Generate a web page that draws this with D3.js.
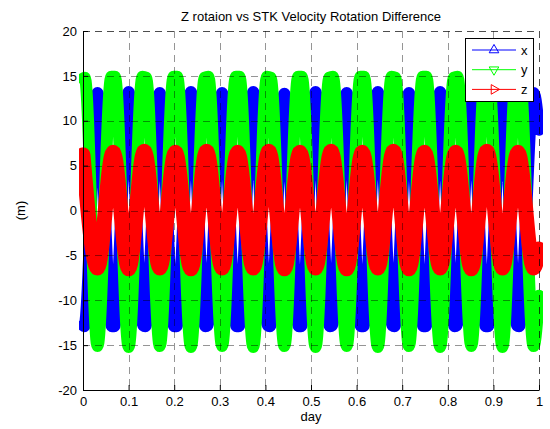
<!DOCTYPE html>
<html>
<head>
<meta charset="utf-8">
<script src="https://cdnjs.cloudflare.com/ajax/libs/d3/7.8.5/d3.min.js"></script>
<style>
  body { margin: 0; background: #fff; }
  .chart { width: 550px; height: 429px; }
  text { font-family: "Liberation Sans", Arial, Helvetica, sans-serif; }
</style>
</head>
<body>
<div class="chart"></div>
<script>
// key points (day, metres)
var xDays = [0, 0.0030, 0.0318,
  0.0635, 0.0685, 0.1001,  0.1318, 0.1368, 0.1684,  0.2001, 0.2051, 0.2367,
  0.2684, 0.2734, 0.3050,  0.3367, 0.3417, 0.3733,  0.4050, 0.4100, 0.4417,
  0.4733, 0.4783, 0.5100,  0.5416, 0.5466, 0.5783,  0.6099, 0.6149, 0.6466,
  0.6782, 0.6832, 0.7149,  0.7465, 0.7515, 0.7832,  0.8148, 0.8198, 0.8515,
  0.8831, 0.8881, 0.9198,  0.9514, 0.9564, 0.9881,  1.0];
var xVals = [-12.8, -12.9, 13.1,
  -12.9, -12.9, 13.2,  -12.8, -12.9, 13.1,  -12.9, -12.9, 13.2,
  -12.9, -12.8, 13.1,  -12.9, -12.9, 13.2,  -12.8, -12.9, 13.0,
  -12.9, -12.9, 13.2,  -12.9, -12.8, 13.1,  -12.9, -12.9, 13.2,
  -12.8, -12.9, 13.1,  -12.9, -12.9, 13.2,  -12.9, -12.8, 13.1,
  -12.9, -12.9, 13.0,  -12.8, -12.9, 13.1,  9.0];

var yDays = [0, 0.0040, 0.0318,
  0.0620, 0.0700, 0.1001,  0.1303, 0.1383, 0.1684,  0.1986, 0.2066, 0.2367,
  0.2669, 0.2749, 0.3050,  0.3352, 0.3432, 0.3733,  0.4035, 0.4115, 0.4417,
  0.4718, 0.4798, 0.5100,  0.5401, 0.5481, 0.5783,  0.6084, 0.6164, 0.6466,
  0.6767, 0.6847, 0.7149,  0.7450, 0.7530, 0.7832,  0.8133, 0.8213, 0.8515,
  0.8816, 0.8896, 0.9198,  0.9499, 0.9579, 0.9881,  1.0];
var yVals = [14.7, 14.8, -15.1,
  14.9, 14.9, -15.2,  14.9, 14.8, -15.1,  14.9, 14.9, -15.2,
  14.8, 14.9, -15.1,  14.9, 14.9, -15.2,  14.9, 14.8, -15.1,
  14.9, 14.9, -15.2,  14.8, 14.9, -15.1,  14.9, 14.9, -15.2,
  14.9, 14.8, -15.1,  14.9, 14.9, -15.2,  14.8, 14.9, -15.1,
  14.9, 14.9, -15.2,  14.9, 14.8, -15.1,  -9.5];

var zDays = [0, 0.0318, 0.0660, 0.1001, 0.1343, 0.1684, 0.2026, 0.2367, 0.2709,
  0.3050, 0.3392, 0.3733, 0.4075, 0.4417, 0.4758, 0.5100, 0.5441, 0.5783,
  0.6124, 0.6466, 0.6807, 0.7149, 0.7490, 0.7832, 0.8173, 0.8515, 0.8856,
  0.9198, 0.9539, 0.9881, 1.0];
var zVals = [6.2, -6.4, 6.5, -6.5, 6.6, -6.4, 6.5, -6.5, 6.6,
  -6.4, 6.5, -6.4, 6.6, -6.5, 6.5, -6.4, 6.6, -6.5,
  6.5, -6.4, 6.6, -6.5, 6.5, -6.4, 6.5, -6.5, 6.6,
  -6.4, 6.5, -6.4, -4.3];

var xTicks = [0, 0.1, 0.2, 0.3, 0.4, 0.5, 0.6, 0.7, 0.8, 0.9, 1];
var xTickLabels = ["0", "0.1", "0.2", "0.3", "0.4", "0.5", "0.6", "0.7", "0.8", "0.9", "1"];
var yTicks = [-20, -15, -10, -5, 0, 5, 10, 15, 20];
var yTickLabels = ["-20", "-15", "-10", "-5", "0", "5", "10", "15", "20"];

var seriesNames = ["x", "y", "z"];
var seriesColors = ["#0000ff", "#00ff00", "#ff0000"];

function drawChart() {
  var eleChart = d3.select(".chart").html(""),
      margin = {top: 31, right: 11, bottom: 39, left: 83},
      width = 550 - margin.left - margin.right,
      height = 429 - margin.top - margin.bottom;

  var svg = eleChart.append("svg").attr("width", 550).attr("height", 429);

  var x = d3.scaleLinear().domain([0, 1]).range([0, width]),
      y = d3.scaleLinear().domain([-20, 20]).range([height, 0]);

  var g = svg.append("g")
      .attr("transform", "translate(" + margin.left + "," + margin.top + ")");

  svg.append("defs").append("clipPath").attr("id", "plotclip")
    .append("rect")
      .attr("x", -4).attr("y", -2)
      .attr("width", width + 8).attr("height", height + 4);

  var line = d3.line()
      .x(function(d) { return x(d[0]); })
      .y(function(d) { return y(d[1]); })
      .curve(d3.curveMonotoneX);

  // thick strokes stand in for the dense marker clouds
  var series = [
    {data: d3.zip(xDays, xVals), width: 12},
    {data: d3.zip(yDays, yVals), width: 12},
    {data: d3.zip(zDays, zVals), width: 15}
  ];

  var plot = g.append("g").attr("clip-path", "url(#plotclip)");
  plot.selectAll(".series")
    .data(series)
    .enter().append("path")
      .attr("class", "series")
      .attr("fill", "none")
      .attr("stroke", function(d, i) { return seriesColors[i]; })
      .attr("stroke-width", function(d) { return d.width; })
      .attr("stroke-linejoin", "round")
      .attr("stroke-linecap", "round")
      .attr("d", function(d) { return line(d.data); });

  // dashed grid on top like matlab
  var grid = g.append("g").attr("class", "grid")
      .attr("stroke", "#000")
      .attr("stroke-width", 0.7)
      .attr("stroke-dasharray", "7,5");
  grid.selectAll(".gx")
    .data(xTicks.slice(1))
    .enter().append("line")
      .attr("x1", function(d) { return Math.round(x(d)) + 0.5; })
      .attr("x2", function(d) { return Math.round(x(d)) + 0.5; })
      .attr("y1", 0).attr("y2", height)
      .attr("stroke-opacity", function(d) { return d === 1 ? 1 : 0.6; });
  grid.selectAll(".gy")
    .data(yTicks.slice(1))
    .enter().append("line")
      .attr("y1", function(d) { return Math.round(y(d)) + 0.5; })
      .attr("y2", function(d) { return Math.round(y(d)) + 0.5; })
      .attr("x1", 0).attr("x2", width)
      .attr("stroke-opacity", function(d) { return d === 20 ? 1 : 0.6; });

  g.append("g")
      .attr("class", "axis axis-x")
      .attr("transform", "translate(0," + height + ")")
      .call(d3.axisBottom(x).tickValues(xTicks).tickSizeInner(-5).tickSizeOuter(0).tickPadding(7)
        .tickFormat(function(d, i) { return xTickLabels[i]; }));

  g.append("g")
      .attr("class", "axis axis-y")
      .call(d3.axisLeft(y).tickValues(yTicks).tickSizeInner(-5).tickSizeOuter(0).tickPadding(6)
        .tickFormat(function(d, i) { return yTickLabels[i]; }));

  g.selectAll(".axis text").style("font-size", "13px").attr("fill", "#000")
    .style("font-family", "'Liberation Sans', Arial, sans-serif");
  g.selectAll(".axis-x text").attr("dy", "0.71em");
  g.selectAll(".axis path, .axis line").attr("stroke", "#000");

  svg.append("text")
      .attr("x", 311).attr("y", 21)
      .attr("text-anchor", "middle")
      .style("font-size", "13px")
      .text("Z rotaion vs STK Velocity Rotation Difference");

  svg.append("text")
      .attr("x", margin.left + width / 2).attr("y", 421)
      .attr("text-anchor", "middle")
      .style("font-size", "13px")
      .text("day");

  svg.append("text")
      .attr("transform", "translate(25," + (margin.top + height / 2) + ") rotate(-90)")
      .attr("text-anchor", "middle")
      .style("font-size", "13px")
      .text("(m)");

  // legend
  var legend = svg.append("g").attr("class", "legend");
  legend.append("rect")
      .attr("x", 465.5).attr("y", 38.5)
      .attr("width", 68).attr("height", 63)
      .attr("fill", "#fff").attr("stroke", "#000");

  var markerRot = [0, 180, 90];
  var item = legend.selectAll(".item")
    .data(seriesNames)
    .enter().append("g")
      .attr("class", "item")
      .attr("transform", function(d, i) { return "translate(0," + (50 + i * 19.7) + ")"; });
  item.append("line")
      .attr("x1", 472).attr("x2", 516)
      .attr("stroke", function(d, i) { return seriesColors[i]; })
      .attr("stroke-width", 1);
  item.append("path")
      .attr("d", d3.symbol(d3.symbolTriangle, 40))
      .attr("transform", function(d, i) { return "translate(494,0) rotate(" + markerRot[i] + ")"; })
      .attr("fill", "none")
      .attr("stroke", function(d, i) { return seriesColors[i]; })
      .attr("stroke-width", 1);
  item.append("text")
      .attr("x", 521).attr("dy", "0.35em")
      .style("font-size", "13px")
      .text(function(d) { return d; });
}

drawChart();
</script>
</body>
</html>
